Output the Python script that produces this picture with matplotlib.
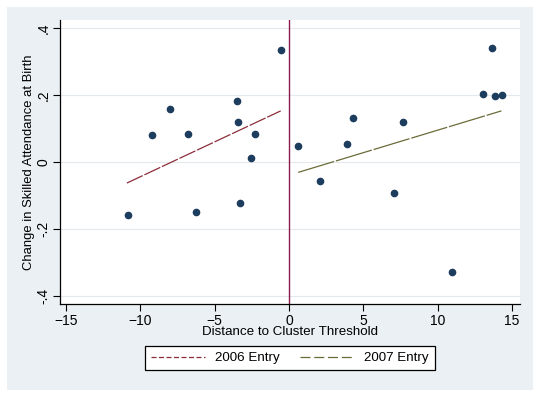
import matplotlib
matplotlib.use("Agg")
import matplotlib.pyplot as plt
from matplotlib.patches import Rectangle

plt.rcParams['font.family'] = ['Liberation Sans', 'DejaVu Sans']

# distance to threshold and change in skilled attendance
x_pts = [-10.83, -9.21, -8.0, -6.79, -6.25, -3.5, -3.43, -3.3, -2.56, -2.29, -0.54,
         0.6, 2.08, 3.9, 4.3, 7.06, 7.67, 10.96, 13.05, 13.65, 13.85, 14.32]
y_pts = [-0.159, 0.081, 0.159, 0.084, -0.150, 0.183, 0.120, -0.123, 0.012, 0.084, 0.335,
         0.048, -0.057, 0.054, 0.132, -0.093, 0.120, -0.329, 0.204, 0.341, 0.198, 0.201]

# fitted lines
fit06_x = [-10.9, -0.55]
fit06_y = [-0.063, 0.153]
fit07_x = [0.63, 14.3]
fit07_y = [-0.031, 0.153]

xticks = [-15, -10, -5, 0, 5, 10, 15]
yticks = [-0.4, -0.2, 0, 0.2, 0.4]
ylabels = ['-.4', '-.2', '0', '.2', '.4']

W, H = 541, 397
fig = plt.figure(figsize=(W / 100, H / 100), dpi=100, facecolor='white')
fig.patches.append(Rectangle((7 / W, 7 / H), 526 / W, 383 / H, transform=fig.transFigure,
                             facecolor='#EAF0F3', edgecolor='none', zorder=-1))

ax = fig.add_axes([60 / W, 1 - 304 / H, 460 / W, 284 / H])
ax.set_facecolor('white')

ax.axvline(0, color='#8B1A4E', lw=1, zorder=1)
for v in yticks:
    ax.axhline(v, color='#E3E9EC', lw=0.8, zorder=0)

l06, = ax.plot(fit06_x, fit06_y, color='#8B2E3A', lw=0.9, dashes=(14, 1.5))
l07, = ax.plot(fit07_x, fit07_y, color='#6B6B3A', lw=0.9, dashes=(30, 1.5))
ax.plot(x_pts, y_pts, 'o', color='#1C3D5E', ms=4.5, zorder=3)

ax.set_xlim(-15.4, 15.55)
ax.set_ylim(-0.425, 0.425)
ax.set_xticks(xticks)
ax.set_yticks(yticks)
ax.set_yticklabels(ylabels, rotation=90, va='center')
ax.tick_params(axis='both', direction='out', length=5, width=0.8, labelsize=10, pad=2)
for s in ['top', 'right']:
    ax.spines[s].set_visible(False)
for s in ['left', 'bottom']:
    ax.spines[s].set_linewidth(0.9)

ax.set_xlabel('Distance to Cluster Threshold', fontsize=9.6, labelpad=-1)
ax.set_ylabel('Change in Skilled Attendance at Birth', fontsize=9.4, labelpad=1)

# legend handles use Stata-like dash patterns
h06, = ax.plot([], [], color='#8B2E3A', lw=0.9, dashes=(4, 2))
h07, = ax.plot([], [], color='#6B6B3A', lw=0.9, dashes=(8, 3))
leg = fig.legend([h06, h07], ['2006 Entry', '2007 Entry'], loc='center',
                 bbox_to_anchor=(290 / W, 1 - 358 / H), ncol=2,
                 fontsize=9.6, handlelength=4, columnspacing=1.5, fancybox=False,
                 framealpha=1, edgecolor='black', borderpad=0.45)
leg.get_frame().set_linewidth(0.9)

fig.savefig('out.png', dpi=100, facecolor='white')
